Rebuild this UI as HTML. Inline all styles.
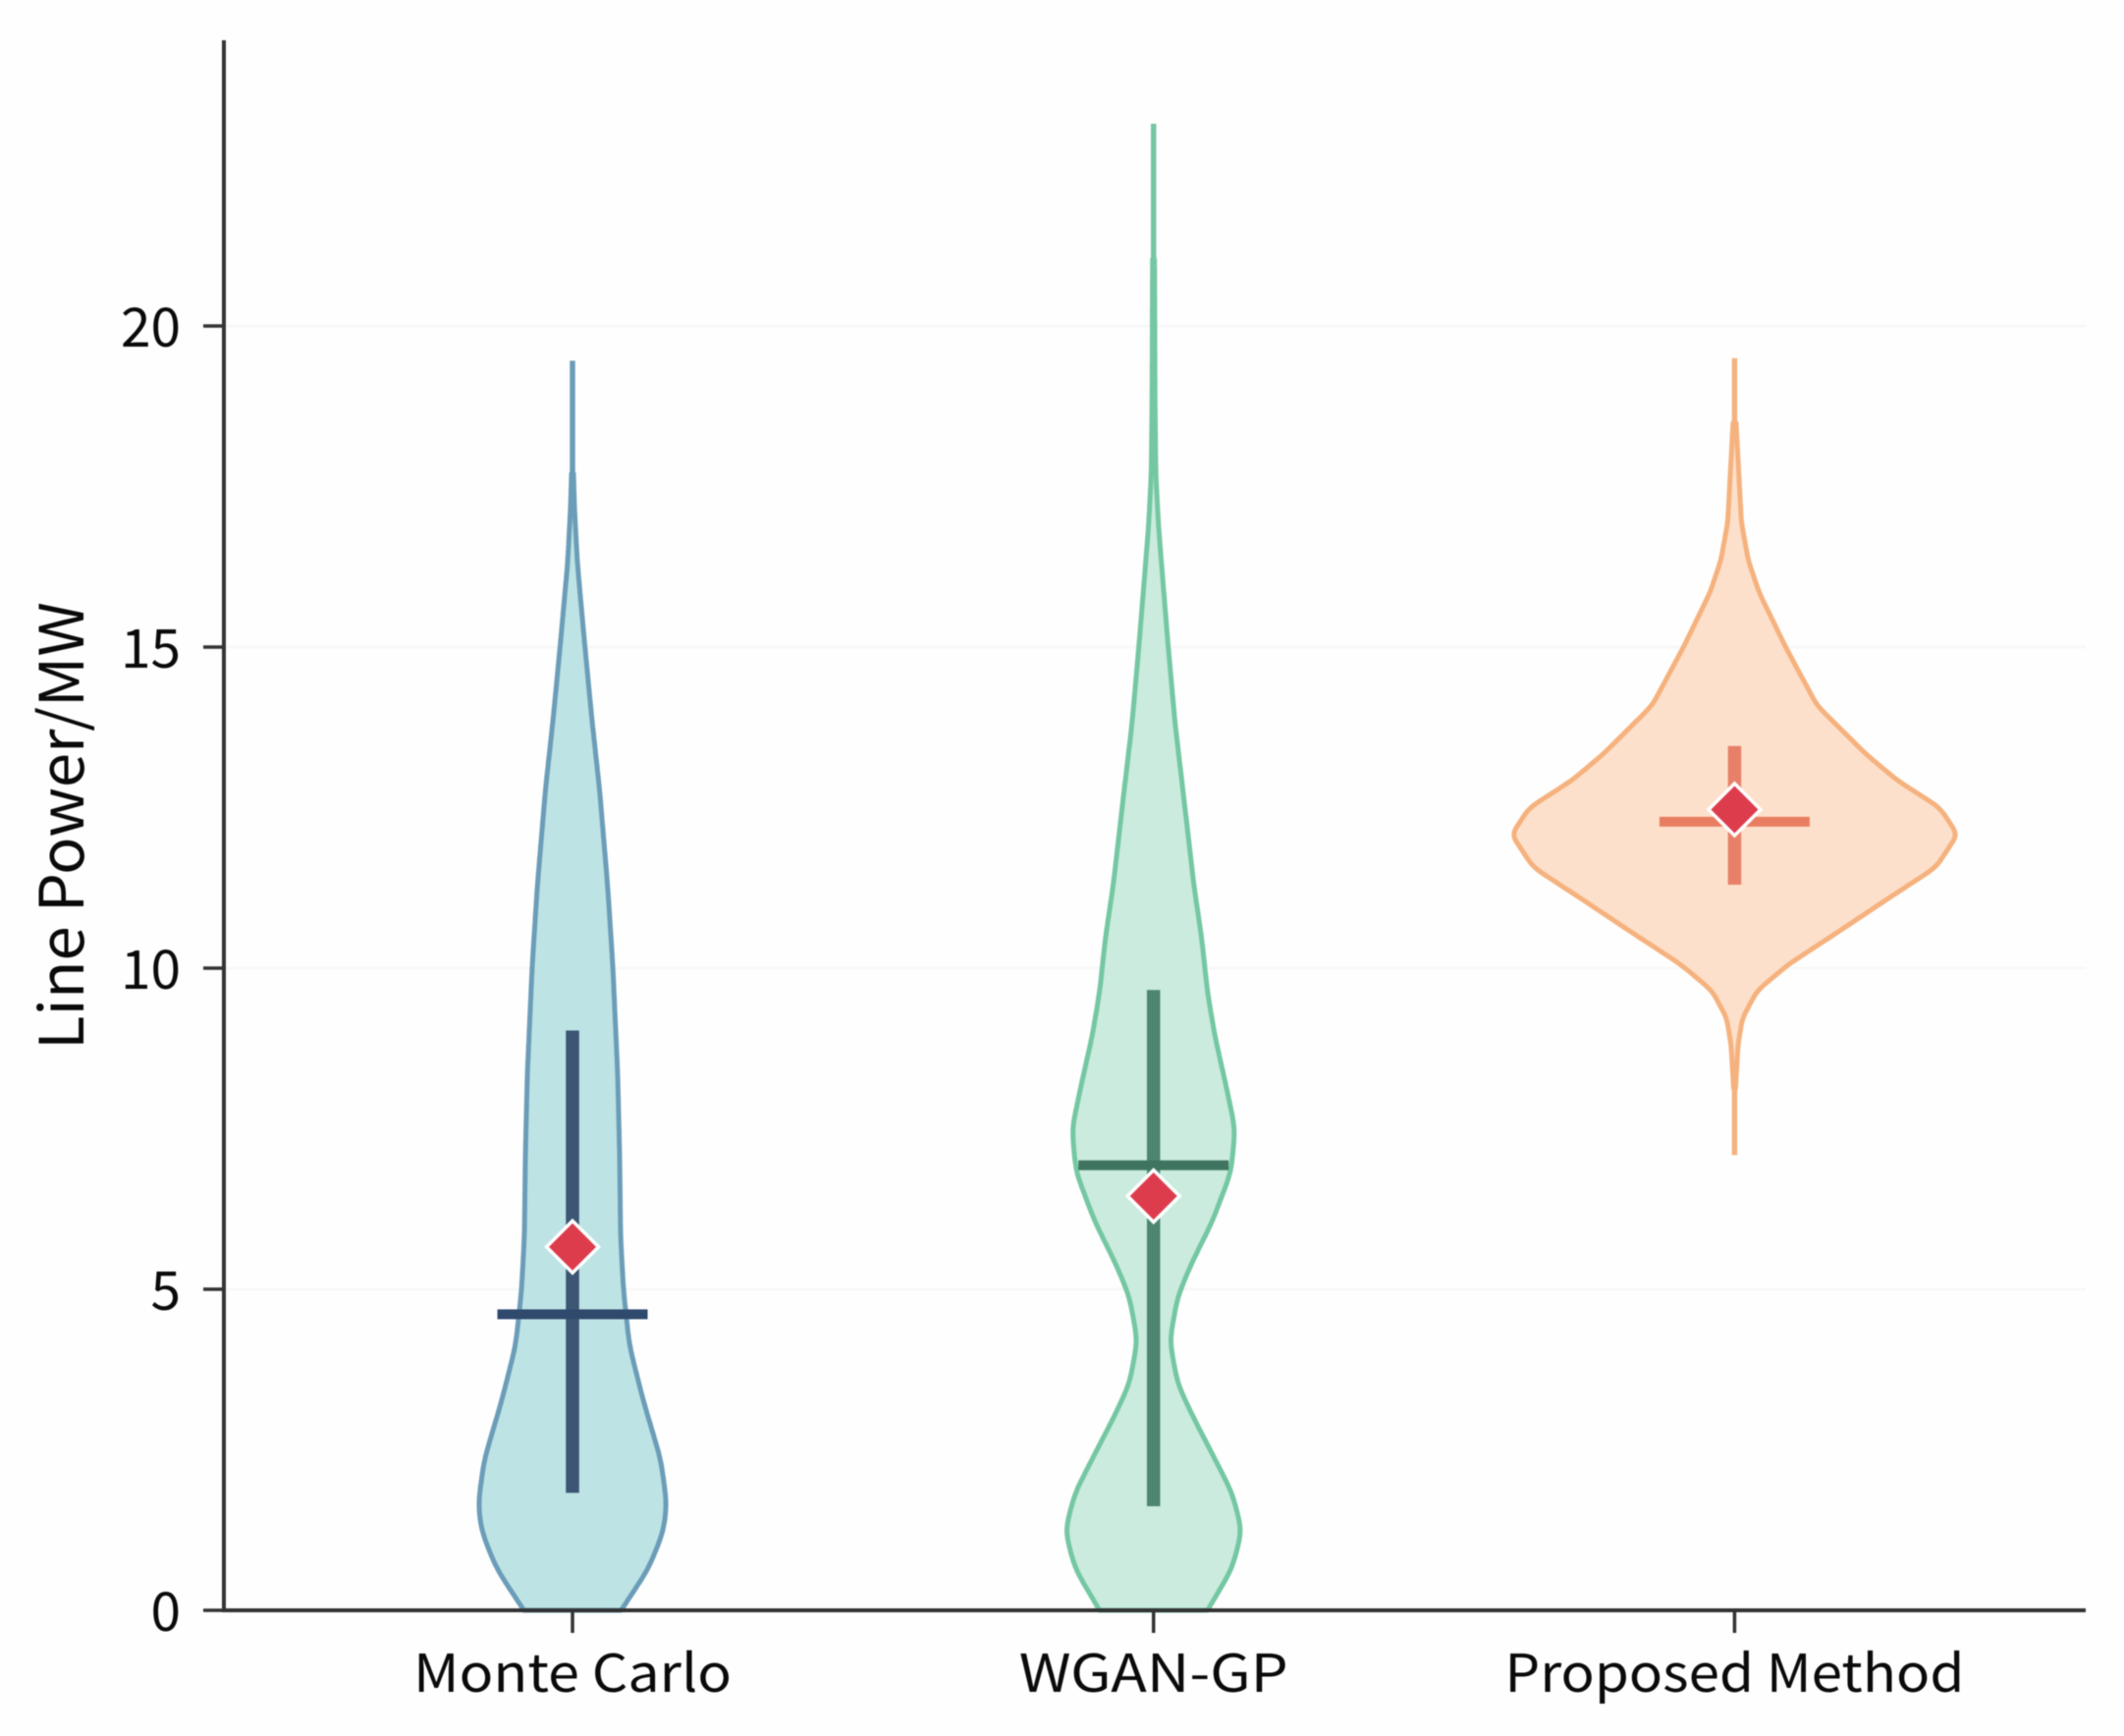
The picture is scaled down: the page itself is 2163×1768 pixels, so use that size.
<!DOCTYPE html>
<html lang="en">
<head>
<meta charset="utf-8">
<title>Line Power Violin Chart</title>
<style>
html,body{margin:0;padding:0;background:#fefefe;}
svg{display:block;filter:blur(0.6px);}
text{font-family:"Noto Sans CJK SC","Liberation Sans",sans-serif;fill:#0a0a0a;}
</style>
</head>
<body>
<svg id="chart" xmlns="http://www.w3.org/2000/svg" width="2163" height="1768" viewBox="0 0 2163 1768">
  <text transform="translate(85,1069) rotate(-90)" font-size="62" textLength="456" lengthAdjust="spacingAndGlyphs">Line Power/MW</text>
</svg>
<script>
const categories = ["Monte Carlo", "WGAN-GP", "Proposed Method"];
const yTickValues = [0, 5, 10, 15, 20];
const xTickWidths = [324, 274, 468];

const mcLevels = [0, 0.65, 1.24, 1.66, 2.34, 3.27, 4.12, 4.97, 5.81, 7.08, 8.35, 10.05, 11.3, 12.79, 13.84, 14.98, 16.3, 17.17, 17.7];
const mcDensity = [0.495, 0.775, 0.928, 0.96, 0.9, 0.72, 0.58, 0.52, 0.49, 0.48, 0.46, 0.41, 0.357, 0.275, 0.2, 0.128, 0.05, 0.02, 0.01];

const wganLevels = [0, 0.65, 1.24, 1.83, 2.43, 3.02, 3.53, 4.2, 4.88, 5.38, 6.06, 6.83, 7.5, 8.18, 8.94, 9.62, 10.47, 11.3, 12.63, 13.8, 15, 16.13, 16.9, 17.7, 18.87, 21.05];
const wganDensity = [0.55, 0.8, 0.9, 0.8, 0.6, 0.4, 0.245, 0.165, 0.245, 0.38, 0.6, 0.79, 0.83, 0.737, 0.625, 0.55, 0.49, 0.41, 0.31, 0.22, 0.15, 0.09, 0.05, 0.023, 0.015, 0.01];

const propLevels = [8.13, 8.8, 9.22, 9.65, 10.06, 10.56, 11.07, 11.57, 12.08, 12.5, 12.92, 13.33, 14.09, 15, 15.85, 16.35, 16.94, 18.5];
const propDensity = [0.01, 0.035, 0.08, 0.23, 0.55, 1.05, 1.55, 2.05, 2.27, 2.09, 1.66, 1.34, 0.84, 0.52, 0.25, 0.14, 0.07, 0.015];

const whiskerMin = [0, 0, 7.09];
const whiskerMax = [19.46, 23.15, 19.5];
const q1Values = [1.83, 1.62, 11.3];
const q3Values = [9.03, 9.66, 13.46];
const medianValues = [4.61, 6.93, 12.28];
const meanValues = [5.66, 6.45, 12.47];

const NS = "http://www.w3.org/2000/svg";
const svg = document.getElementById("chart");
const plot = {left: 228, right: 2124, top: 41, bottom: 1640};
const yScale = v => plot.bottom - v * 65.4;
const xScale = i => plot.left + (i + 0.6) * 591.7;
const widthScale = d => d * 100;
const fills = ["#bde3e4", "#caebde", "#fde0cb"];
const strokes = ["#6b9db8", "#74c7a2", "#f5b27e"];
const vColors = ["#3c5674", "#4e8570", "#e88069"];
const hColors = ["#2f4a6d", "#3f7560", "#e87d62"];
const levels = [mcLevels, wganLevels, propLevels];
const densities = [mcDensity, wganDensity, propDensity];
const kernelRadius = [0.3, 0.28, 0.14];

function make(tag, attrs, parent) {
  const el = document.createElementNS(NS, tag);
  for (const k in attrs) el.setAttribute(k, attrs[k]);
  (parent || svg).appendChild(el);
  return el;
}

function lerpDensity(ls, ds, v) {
  for (let k = 0; k < ls.length - 1; k++) {
    if (v <= ls[k + 1]) {
      const t = (v - ls[k]) / (ls[k + 1] - ls[k]);
      return ds[k] + t * (ds[k + 1] - ds[k]);
    }
  }
  return ds[ds.length - 1];
}

function profile(ls, ds, radius) {
  const lo = ls[0], hi = ls[ls.length - 1], step = 0.04, out = [];
  for (let v = lo; v < hi + step / 2; v += step) {
    const at = Math.min(v, hi);
    const r = Math.min(radius, at - lo, hi - at);
    let sum = 0, wt = 0;
    if (r <= 0) { out.push([at, lerpDensity(ls, ds, at)]); continue; }
    for (let j = -6; j <= 6; j++) {
      const w = 7 - Math.abs(j);
      sum += w * lerpDensity(ls, ds, at + j * r / 6);
      wt += w;
    }
    out.push([at, sum / wt]);
  }
  return out;
}

yTickValues.forEach(v => {
  if (v === 0) return;
  const grid = make("line", {x1: plot.left, x2: plot.right, y1: yScale(v), y2: yScale(v), stroke: "#f6f6f6", "stroke-width": 2.5});
  
  
});

categories.forEach((name, i) => {
  const cx = xScale(i);
  const g = make("g", {});
  
  

  const whisker = make("line", {x1: cx, x2: cx, y1: yScale(whiskerMin[i]), y2: yScale(whiskerMax[i]), stroke: strokes[i], "stroke-width": 5.5}, g);
  
  

  const prof = profile(levels[i], densities[i], kernelRadius[i]);
  const right = prof.map(p => (cx + widthScale(p[1])).toFixed(1) + " " + yScale(p[0]).toFixed(1));
  const left = prof.map(p => (cx - widthScale(p[1])).toFixed(1) + " " + yScale(p[0]).toFixed(1)).reverse();
  const d = "M" + right.join("L") + "L" + left.join("L") + "Z";
  const body = make("path", {d: d, fill: fills[i], stroke: strokes[i], "stroke-width": 5, "stroke-linejoin": "round"}, g);
  
  

  const iqr = make("line", {x1: cx, x2: cx, y1: yScale(q1Values[i]), y2: yScale(q3Values[i]), stroke: vColors[i], "stroke-width": 13.5}, g);
  
  

  const med = make("line", {x1: cx - 76.5, x2: cx + 76.5, y1: yScale(medianValues[i]), y2: yScale(medianValues[i]), stroke: hColors[i], "stroke-width": 10}, g);
  
  

  const my = yScale(meanValues[i]), r = 26.5;
  const mean = make("polygon", {points: [[cx, my - r], [cx + r, my], [cx, my + r], [cx - r, my]].map(p => p.join(",")).join(" "), fill: "#dd3c4c", stroke: "#ffffff", "stroke-width": 3.5}, g);
  
  

  const tick = make("line", {x1: cx, x2: cx, y1: plot.bottom, y2: plot.bottom + 23, stroke: "#333333", "stroke-width": 3.5});
  
  

  const label = make("text", {x: cx, y: 1723, "text-anchor": "middle", "font-size": 53, textLength: xTickWidths[i], lengthAdjust: "spacingAndGlyphs"});
  
  
  label.textContent = name;
});

yTickValues.forEach(v => {
  const tick = make("line", {x1: 207, x2: plot.left, y1: yScale(v), y2: yScale(v), stroke: "#333333", "stroke-width": 3.5});
  
  

  const label = make("text", {x: 184, y: yScale(v) + 21, "text-anchor": "end", "font-size": 55});
  
  
  label.textContent = v;
});

const ySpine = make("line", {x1: plot.left, x2: plot.left, y1: plot.top, y2: plot.bottom + 2, stroke: "#333333", "stroke-width": 4});



const xSpine = make("line", {x1: plot.left, x2: plot.right, y1: plot.bottom, y2: plot.bottom, stroke: "#333333", "stroke-width": 4});


</script>
</body>
</html>
